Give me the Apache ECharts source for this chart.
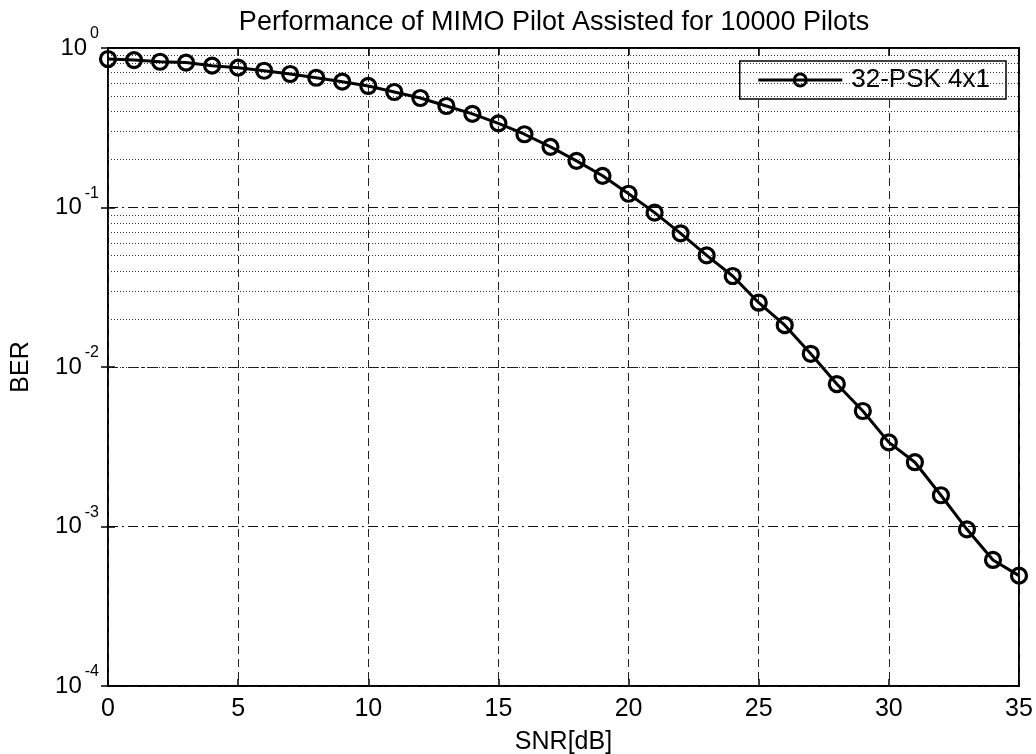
<!DOCTYPE html>
<html><head><meta charset="utf-8">
<script src="https://cdn.jsdelivr.net/npm/echarts@6/dist/echarts.min.js"></script>
<style>html,body{margin:0;padding:0;background:#fff}#c{width:1036px;height:754px}</style>
</head><body><div id="c"></div>
<script>
const snr = [0,1,2,3,4,5,6,7,8,9,10,11,12,13,14,15,16,17,18,19,20,21,22,23,24,25,26,27,28,29,30,31,32,33,34,35];
const ber = [0.853,0.84,0.82,0.81,0.775,0.753,0.72,0.687,0.651,0.615,0.578,0.53,0.486,0.433,0.386,0.337,0.288,0.240,0.196,0.158,0.122,0.0929,0.0689,0.0501,0.0372,0.0253,0.0183,0.0121,0.00782,0.0053,0.00337,0.00253,0.00157,0.00096,0.000617,0.000492];
const xTicks = [0,5,10,15,20,25,30,35];
const decades = [-4,-3,-2,-1,0];
const minorMultipliers = [2,3,4,5,6,7,8,9];
const seriesName = '32-PSK 4x1';

const minorValues = [];
decades.slice(0,-1).forEach(d => minorMultipliers.forEach(m => minorValues.push(m*Math.pow(10,d))));

const font = 'Liberation Sans, Arial, sans-serif';
const chart = echarts.init(document.getElementById('c'));
const yLabel = {
  fontFamily: font, color:'#000', margin: 9, padding:[0,0,20,0],
  formatter: v => '{b|10}{s|' + Math.round(Math.log10(v)) + '}',
  rich: {
    b:{fontSize:24, lineHeight:24, fontFamily:font, color:'#000', padding:[10,0,0,0], verticalAlign:'top'},
    s:{fontSize:16, lineHeight:16, fontFamily:font, color:'#000', padding:[0,0,0,3], verticalAlign:'top'}
  }
};
chart.setOption({
  animation:false,
  title:{ text:'Performance of MIMO Pilot Assisted for 10000 Pilots', left:549, textAlign:'center', top:4,
    textStyle:{fontFamily:font, fontSize:27, fontWeight:'normal', color:'#000'} },
  grid:{ left:108, right:17, top:48, bottom:68, outerBoundsMode:'none', containLabel:false,
    show:true, borderColor:'#000', borderWidth:2, backgroundColor:'transparent' },
  legend:{ right:30, top:61, orient:'vertical', backgroundColor:'#fff', borderColor:'#000', borderWidth:1.5,
    padding:[6,16,6,17], itemWidth:84, itemHeight:15, itemGap:0,
    lineStyle:{width:3, color:'#000'}, itemStyle:{borderWidth:3, borderColor:'#000'},
    textStyle:{fontFamily:font, fontSize:26, color:'#000', padding:[0,0,0,4]}, data:[seriesName] },
  xAxis:[{ type:'value', min:0, max:35, interval:5, position:'bottom',
    name:'SNR[dB]', nameLocation:'middle', nameGap:44, nameTextStyle:{fontFamily:font, fontSize:25, color:'#000'},
    axisLine:{show:false}, axisTick:{inside:true, length:7, lineStyle:{color:'#000', width:1.5}},
    axisLabel:{fontFamily:font, fontSize:25, color:'#000', margin:11, customValues: xTicks},
    splitLine:{show:true, lineStyle:{color:'#222', type:[8,5], width:1}} },
   { type:'value', min:0, max:35, interval:5, position:'top', axisLine:{show:false},
    axisTick:{inside:true, length:7, lineStyle:{color:'#000', width:1.5}}, axisLabel:{show:false}, splitLine:{show:false} }],
  yAxis:[{ type:'log', logBase:10, min:0.0001, max:1, position:'left',
    name:'BER', nameLocation:'middle', nameGap:74, nameRotate:90, nameTextStyle:{fontFamily:font, fontSize:25, color:'#000'},
    axisLine:{show:false}, axisTick:{inside:true, length:7, lineStyle:{color:'#000', width:1.5}},
    axisLabel: yLabel,
    splitLine:{show:true, lineStyle:{color:'#111', type:[10,4,2,4], width:1}} },
   { type:'log', logBase:10, min:0.0001, max:1, position:'right', axisLine:{show:false},
    axisTick:{inside:true, length:7, lineStyle:{color:'#000', width:1.5}}, axisLabel:{show:false}, splitLine:{show:false} }],
  series:[
    { type:'line', name:'minor', data:[], silent:true, z:1,
      markLine:{ silent:true, symbol:'none', label:{show:false}, animation:false,
        lineStyle:{color:'#333', type:[1,2], width:1},
        data: minorValues.map(v => ({yAxis:v})) } },
    { type:'line', name:seriesName, data: snr.map((x,i)=>[x, ber[i]]), z:5,
      symbol:'circle', symbolSize:15, showAllSymbol:true,
      lineStyle:{color:'#000', width:3},
      itemStyle:{color:'rgba(255,255,255,0)', borderColor:'#000', borderWidth:3.2} }
  ]
});
</script></body></html>
